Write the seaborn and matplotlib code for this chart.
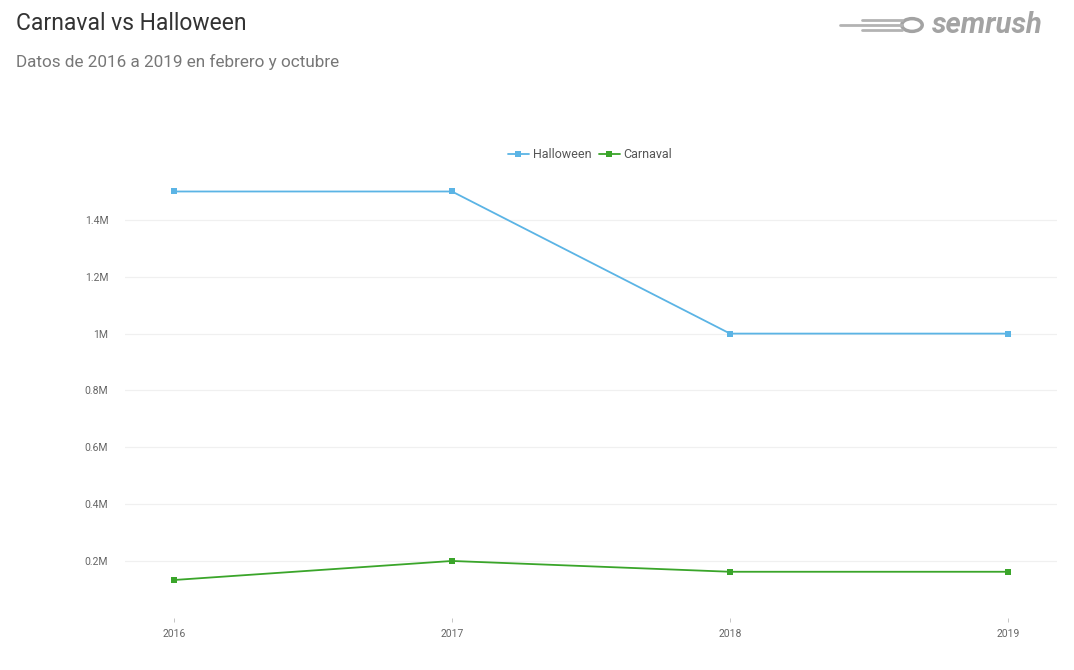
import matplotlib
matplotlib.use("Agg")
import matplotlib.pyplot as plt
import seaborn as sns
import pandas as pd
from matplotlib.patches import Circle

years = ["2016", "2017", "2018", "2019"]
halloween = [1500000, 1500000, 1000000, 1000000]
carnaval = [133000, 200000, 162000, 162000]
series_names = ["Halloween", "Carnaval"]
yticks = [200000, 400000, 600000, 800000, 1000000, 1200000, 1400000]
ytick_labels = ["0.2M", "0.4M", "0.6M", "0.8M", "1M", "1.2M", "1.4M"]

df = pd.DataFrame({
    "year": years * 2,
    "x": list(range(len(years))) * 2,
    "value": halloween + carnaval,
    "serie": [series_names[0]] * len(years) + [series_names[1]] * len(years),
})

sns.set_theme(style="white")
plt.rcParams['font.family'] = ['Roboto', 'DejaVu Sans']

fig = plt.figure(figsize=(10.74, 6.70), dpi=100)
ax = fig.add_axes([0.1164, 0.0779, 0.8678, 0.6575])

palette = {"Halloween": "#5bb4e5", "Carnaval": "#3aa52a"}
sns.lineplot(data=df, x="x", y="value", hue="serie", palette=palette,
             marker="s", markersize=4, markeredgewidth=0, linewidth=1.3,
             ax=ax, legend=True)

ax.set_xlim(-0.176, 3.176)
ax.set_ylim(0, 1550000)
ax.set_xticks(range(len(years)))
ax.set_xticklabels(years)
ax.set_yticks(yticks)
ax.set_yticklabels(ytick_labels)
ax.yaxis.grid(True, color="#f0f0f0", linewidth=0.9)
ax.xaxis.grid(False)
for s in ax.spines.values():
    s.set_visible(False)
ax.tick_params(axis="y", length=0, labelsize=7.5, labelcolor="#666666", pad=12)
ax.tick_params(axis="x", length=3, width=0.6, color="#bbbbbb", direction="out",
               labelsize=7.5, labelcolor="#666666", pad=5, bottom=True)
ax.set_xlabel("")
ax.set_ylabel("")

leg = ax.legend(loc="center", ncol=2, frameon=False, fontsize=9, handlelength=1.7,
                handletextpad=0.3, columnspacing=0.6)
leg.set_bbox_to_anchor((590 / 1074, 1 - 155 / 670), transform=fig.transFigure)
for t in leg.get_texts():
    t.set_color("#555555")

fig.text(16 / 1074, 1 - 23 / 670, "Carnaval vs Halloween", fontsize=16.5,
         color="#333333", va="center", ha="left")
fig.text(16 / 1074, 1 - 62 / 670, "Datos de 2016 a 2019 en febrero y octubre",
         fontsize=12.3, color="#777777", va="center", ha="left")

# logo
fig.text(932 / 1074, 1 - 25 / 670, "semrush", fontsize=21, fontweight="bold",
         fontstyle="italic", color="#a3a3a3", va="center", ha="left")
circ = Circle((912 / 1074, 1 - 25 / 670), 0.0095, transform=fig.transFigure,
              facecolor="none", edgecolor="#a3a3a3", linewidth=2.5)
fig.add_artist(circ)
for dy, ln in [(-5, 40), (0, 62), (5, 40)]:
    fig.add_artist(plt.Line2D([(902 - ln) / 1074, 902 / 1074],
                              [1 - (25 + dy) / 670, 1 - (25 + dy) / 670],
                              transform=fig.transFigure, color="#b3b3b3", linewidth=2))

fig.savefig("out.png", dpi=100)
